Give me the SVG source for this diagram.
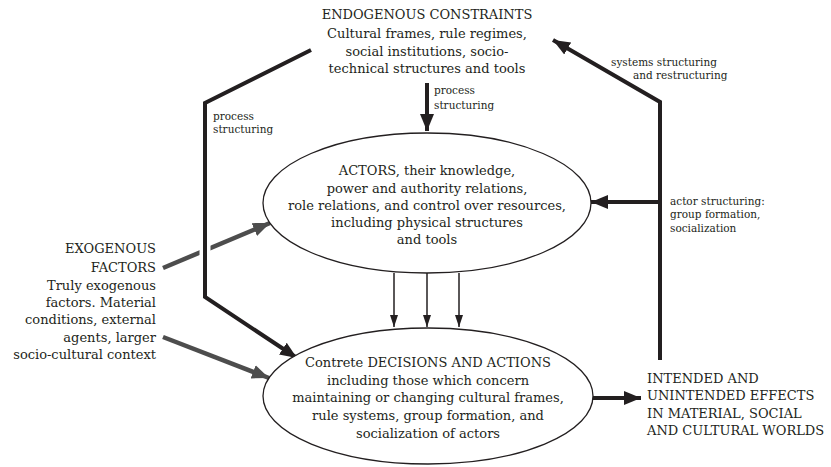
<svg xmlns="http://www.w3.org/2000/svg" width="831" height="467" viewBox="0 0 831 467">
<style>
.t{font-family:"DejaVu Serif","Liberation Serif",serif;font-size:13px;fill:#231f20}
.s{font-family:"DejaVu Serif","Liberation Serif",serif;font-size:10.5px;fill:#231f20}
.m{text-anchor:middle}
.r{text-anchor:end}
.node{fill:#fff;stroke:#231f20;stroke-width:1.3}
.thick{fill:none;stroke:#231f20;stroke-width:4}
.gray{fill:none;stroke:#4d4d4d;stroke-width:4.5}
.thin{fill:none;stroke:#231f20;stroke-width:1.5}
</style>
<defs>
<marker id="ab" markerUnits="userSpaceOnUse" markerWidth="18" markerHeight="16" refX="17" refY="8" orient="auto"><path d="M0,1 L17,8 L0,15 Z" fill="#231f20"/></marker>
<marker id="ag" markerUnits="userSpaceOnUse" markerWidth="18" markerHeight="16" refX="17" refY="8" orient="auto"><path d="M0,1 L17,8 L0,15 Z" fill="#4d4d4d"/></marker>
<marker id="at" markerUnits="userSpaceOnUse" markerWidth="13" markerHeight="10" refX="12" refY="5" orient="auto"><path d="M0,1 L12,5 L0,9 Z" fill="#231f20"/></marker>
</defs>
<g id="connectors">
<line class="gray" x1="163" y1="268" x2="270" y2="223" marker-end="url(#ag)"/>
<line class="gray" x1="163" y1="337" x2="269" y2="378" marker-end="url(#ag)"/>
<line x1="205" y1="240" x2="205" y2="262" stroke="#fff" stroke-width="11"/>
<polyline class="thick" points="311,50 205,103 205,297 297,358" marker-end="url(#ab)"/>
<line class="thick" x1="427" y1="83" x2="427" y2="131" marker-end="url(#ab)"/>
<polyline class="thick" points="660,360 660,102 553,40" marker-end="url(#ab)"/>
<line class="thick" x1="660" y1="202" x2="591" y2="202" marker-end="url(#ab)"/>
<line class="thick" x1="593" y1="398" x2="641" y2="398" marker-end="url(#ab)"/>
<line class="thin" x1="394" y1="273" x2="394" y2="327" marker-end="url(#at)"/>
<line class="thin" x1="427" y1="273" x2="427" y2="327" marker-end="url(#at)"/>
<line class="thin" x1="459" y1="273" x2="459" y2="327" marker-end="url(#at)"/>
<text class="s" x="213" y="120">process</text>
<text class="s" x="213" y="133">structuring</text>
<text class="s" x="434" y="94">process</text>
<text class="s" x="434" y="109">structuring</text>
<text class="s" x="611" y="66">systems structuring</text>
<text class="s" x="633" y="79">and restructuring</text>
<text class="s" x="670" y="205">actor structuring:</text>
<text class="s" x="670" y="218">group formation,</text>
<text class="s" x="670" y="232">socialization</text>
</g>
<g id="endogenous">
<text class="t m" x="427" y="19">ENDOGENOUS CONSTRAINTS</text>
<text class="t m" x="427" y="38">Cultural frames, rule regimes,</text>
<text class="t m" x="427" y="56">social institutions, socio-</text>
<text class="t m" x="427" y="73">technical structures and tools</text>
</g>
<g id="actors">
<ellipse class="node" cx="427" cy="203" rx="164" ry="70"/>
<text class="t m" x="427" y="175">ACTORS, their knowledge,</text>
<text class="t m" x="427" y="193">power and authority relations,</text>
<text class="t m" x="427" y="210">role relations, and control over resources,</text>
<text class="t m" x="427" y="227">including physical structures</text>
<text class="t m" x="427" y="244">and tools</text>
</g>
<g id="decisions">
<ellipse class="node" cx="428" cy="396" rx="165" ry="68"/>
<text class="t m" x="428" y="367">Contrete DECISIONS AND ACTIONS</text>
<text class="t m" x="428" y="385">including those which concern</text>
<text class="t m" x="428" y="402">maintaining or changing cultural frames,</text>
<text class="t m" x="428" y="420">rule systems, group formation, and</text>
<text class="t m" x="428" y="438">socialization of actors</text>
</g>
<g id="exogenous">
<text class="t r" x="156" y="253">EXOGENOUS</text>
<text class="t r" x="156" y="272">FACTORS</text>
<text class="t r" x="156" y="290">Truly exogenous</text>
<text class="t r" x="156" y="307">factors. Material</text>
<text class="t r" x="156" y="324">conditions, external</text>
<text class="t r" x="156" y="342">agents, larger</text>
<text class="t r" x="156" y="359">socio-cultural context</text>
</g>
<g id="effects">
<text class="t" x="647" y="383">INTENDED AND</text>
<text class="t" x="647" y="400">UNINTENDED EFFECTS</text>
<text class="t" x="647" y="418">IN MATERIAL, SOCIAL</text>
<text class="t" x="647" y="435">AND CULTURAL WORLDS</text>
</g>
</svg>
